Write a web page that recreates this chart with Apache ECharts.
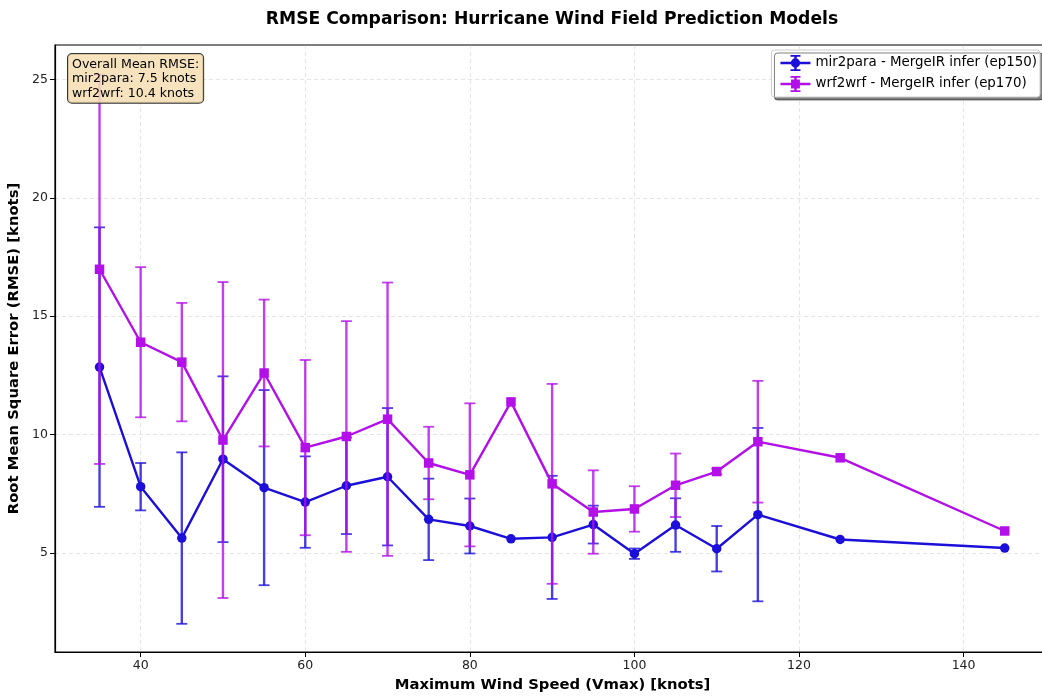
<!DOCTYPE html>
<html>
<head>
<meta charset="utf-8">
<script src="https://cdn.jsdelivr.net/npm/echarts@6/dist/echarts.min.js"></script>
<style>
html,body{margin:0;padding:0;background:#fff;}
#chart{width:1042px;height:696px;}
</style>
</head>
<body>
<div id="chart"></div>
<script>
// ---- data ----
const windSpeeds = [35, 40, 45, 50, 55, 60, 65, 70, 75, 80, 85, 90, 95, 100, 105, 110, 115, 125, 145];
const mir2paraRmse = [12.85, 7.8, 5.63, 8.96, 7.76, 7.15, 7.84, 8.22, 6.42, 6.14, 5.6, 5.66, 6.2, 4.97, 6.18, 5.18, 6.62, 5.57, 5.21];
const mir2paraStd  = [5.9, 1.0, 3.62, 3.5, 4.12, 1.93, 2.04, 2.9, 1.72, 1.16, 0, 2.6, 0.8, 0.22, 1.13, 0.96, 3.66, 0, 0];
const wrf2wrfRmse  = [16.98, 13.9, 13.06, 9.77, 12.6, 9.45, 9.92, 10.65, 8.8, 8.3, 11.38, 7.92, 6.73, 6.86, 7.86, 8.44, 9.7, 9.02, 5.93];
const wrf2wrfStd   = [8.22, 3.17, 2.5, 6.67, 3.1, 3.7, 4.87, 5.77, 1.53, 3.02, 0, 4.22, 1.76, 0.96, 1.34, 0.12, 2.57, 0, 0];
const seriesNames = ['mir2para - MergeIR infer (ep150)', 'wrf2wrf - MergeIR infer (ep170)'];
const annotationLines = ['Overall Mean RMSE:', 'mir2para: 7.5 knots', 'wrf2wrf: 10.4 knots'];
const xTicks = [40, 60, 80, 100, 120, 140];
const yTicks = [5, 10, 15, 20, 25];

const blue = '#1c0fd9';
const magenta = '#b30fe8';
const FONT = 'DejaVu Sans';

function pts(vals){ return windSpeeds.map((x,i)=>[x, vals[i]]); }
function errPts(vals, errs){ return windSpeeds.map((x,i)=>[x, vals[i], errs[i]]); }

function errRender(color){
  return function(params, api){
    const x = api.value(0), y = api.value(1), e = api.value(2);
    if (!(e > 0)) return null;
    const top = api.coord([x, y + e]);
    const bot = api.coord([x, y - e]);
    const cw = 5.5;
    const st = {stroke: color, lineWidth: 2.4, opacity: 0.8};
    const cs = {stroke: color, lineWidth: 1.8, opacity: 0.8};
    return {type:'group', children:[
      {type:'line', shape:{x1:top[0], y1:top[1], x2:bot[0], y2:bot[1]}, style: st},
      {type:'line', shape:{x1:top[0]-cw, y1:top[1], x2:top[0]+cw, y2:top[1]}, style: cs},
      {type:'line', shape:{x1:bot[0]-cw, y1:bot[1], x2:bot[0]+cw, y2:bot[1]}, style: cs}
    ]};
  };
}

const iconCircle = 'path://M0,8.8h30v2.4h-30z M13.8,2h2.4v16h-2.4z M10,2h10v1.8h-10z M10,16.2h10v1.8h-10z M10.3,10a4.7,4.7 0 1,1 9.4,0a4.7,4.7 0 1,1 -9.4,0z';
const iconRect = 'path://M0,8.8h30v2.4h-30z M13.8,2h2.4v16h-2.4z M10,2h10v1.8h-10z M10,16.2h10v1.8h-10z M10.6,5.6h8.8v8.8h-8.8z';

const chart = echarts.init(document.getElementById('chart'), null, {renderer:'canvas'});
chart.setOption({
  backgroundColor: '#fff',
  animation: false,
  title: {
    text: 'RMSE Comparison: Hurricane Wind Field Prediction Models',
    left: 547, top: 6, textAlign: 'center',
    textStyle: {fontFamily: FONT, fontSize: 17.2, fontWeight: 'bold', color: '#000'}
  },
  legend: {
    orient: 'vertical', right: 2, top: 50,
    backgroundColor: '#ffffff',
    borderColor: '#cccccc', borderWidth: 1, borderRadius: 3,
    shadowColor: 'rgba(0,0,0,0.5)', shadowOffsetX: 3, shadowOffsetY: 3, shadowBlur: 0,
    padding: [5, 3, 5, 9],
    itemGap: 5, itemWidth: 30, itemHeight: 18,
    textStyle: {fontFamily: FONT, fontSize: 13.4, color: '#000'},
    data: [
      {name: seriesNames[0], icon: iconCircle, itemStyle:{color: blue}},
      {name: seriesNames[1], icon: iconRect, itemStyle:{color: magenta}}
    ]
  },
  grid: {left: 55, right: -8, top: 45, bottom: 44, outerBoundsMode: 'none', containLabel: false,
         show: true, borderColor: '#000', borderWidth: 1.2, backgroundColor: 'transparent'},
  xAxis: {
    type: 'value', min: 29.59, max: 150.5,
    name: 'Maximum Wind Speed (Vmax) [knots]', nameLocation: 'middle', nameGap: 26,
    nameTextStyle: {fontFamily: FONT, fontSize: 14.8, fontWeight: 'bold', color: '#000'},
    axisLine: {show: true, lineStyle: {color: '#000', width: 1.2}},
    axisTick: {show: true, customValues: xTicks, length: 5, lineStyle: {color: '#000'}},
    axisLabel: {customValues: xTicks, fontFamily: FONT, fontSize: 12.5, color: '#222', margin: 7},
    splitLine: {show: true, lineStyle: {color: 'rgba(180,180,180,0.35)', type: [4, 3], width: 1}}
  },
  yAxis: {
    type: 'value', min: 0.82, max: 26.45,
    name: 'Root Mean Square Error (RMSE) [knots]', nameLocation: 'middle', nameGap: 30,
    nameTextStyle: {fontFamily: FONT, fontSize: 14.8, fontWeight: 'bold', color: '#000'},
    axisLine: {show: true, lineStyle: {color: '#000', width: 1.2}},
    axisTick: {show: true, customValues: yTicks, length: 5, lineStyle: {color: '#000'}},
    axisLabel: {customValues: yTicks, fontFamily: FONT, fontSize: 12.5, color: '#222', margin: 7},
    splitLine: {show: true, lineStyle: {color: 'rgba(180,180,180,0.35)', type: [4, 3], width: 1}}
  },
  graphic: [{
    type: 'text', left: 67, top: 53, z: 100,
    style: {
      text: annotationLines.join('\n'),
      fontFamily: FONT, fontSize: 12.6, lineHeight: 14.6, fill: '#000',
      backgroundColor: 'rgba(245,222,179,0.85)', borderColor: '#333', borderWidth: 1, borderRadius: 4,
      padding: [3, 4, 2, 4]
    }
  }],
  series: [
    {type: 'custom', name: seriesNames[0], data: errPts(mir2paraRmse, mir2paraStd), renderItem: errRender(blue), z: 2, silent: true},
    {type: 'line', name: seriesNames[0], data: pts(mir2paraRmse), symbol: 'circle', symbolSize: 9.5,
     lineStyle: {color: blue, width: 2.4}, itemStyle: {color: blue}, z: 3},
    {type: 'custom', name: seriesNames[1], data: errPts(wrf2wrfRmse, wrf2wrfStd), renderItem: errRender(magenta), z: 4, silent: true},
    {type: 'line', name: seriesNames[1], data: pts(wrf2wrfRmse), symbol: 'rect', symbolSize: 9.5,
     lineStyle: {color: magenta, width: 2.4}, itemStyle: {color: magenta}, z: 5}
  ]
});
</script>
</body>
</html>
